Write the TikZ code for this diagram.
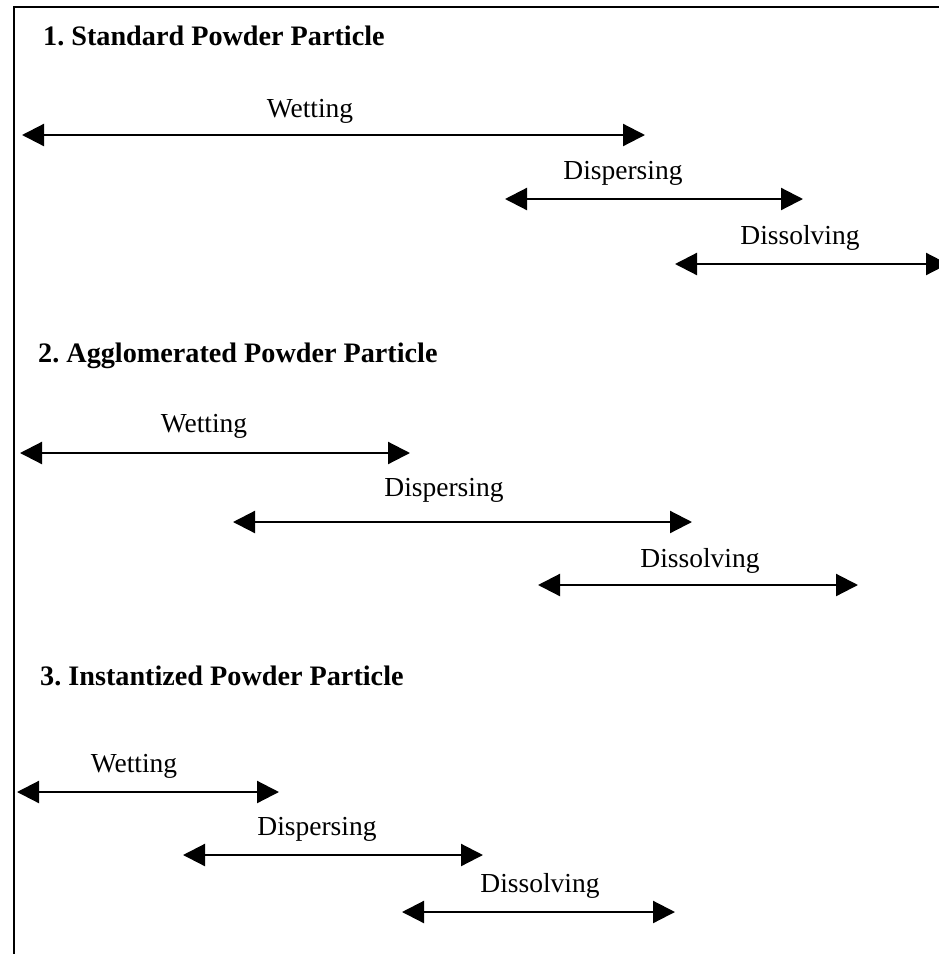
\documentclass[tikz,border=0pt]{standalone}
\usepackage{fontspec}
\setmainfont{Liberation Serif}
\usetikzlibrary{arrows.meta}
\frenchspacing
\tikzset{heading/.style={
            font=\fontsize{28.2}{30}\selectfont\bfseries,
            anchor=base west,
            inner sep=0pt
        },
        phase/.style={
            font=\fontsize{27.5}{30}\selectfont,
            anchor=base,
            inner sep=0pt
        },
        span/.style={
            {Triangle[length=22pt,width=22pt]}-{Triangle[length=22pt,width=22pt]},
            line width=2.2pt
        }
    }
\begin{document}
\begin{tikzpicture}
        [x=1pt,y=-1pt]

        \useasboundingbox (0,0) rectangle (938,954);
        \draw[line width=2pt] (13.5,960) -- (13.5,7) -- (945,7);

        % 1. standard
        \node[heading] (std) at (43,45) {1. Standard Powder Particle};
        \node[phase] (wetA) at (310,117) {Wetting};
        \node[phase] (dispA) at (623,179) {Dispersing};
        \node[phase] (dissA) at (800,244) {Dissolving};
        \coordinate (wetAl) at (22,135);   \coordinate (wetAr) at (645,135);
        \coordinate (dispAl) at (505,199); \coordinate (dispAr) at (803,199);
        \coordinate (dissAl) at (675,264); \coordinate (dissAr) at (948,264);
        \draw[span] (wetAl) -- (wetAr);
        \draw[span] (dispAl) -- (dispAr);
        \draw[span] (dissAl) -- (dissAr);

        % 2. agglomerated
        \node[heading] (agg) at (38,362) {2. Agglomerated Powder Particle};
        \node[phase] (wetB) at (204,432) {Wetting};
        \node[phase] (dispB) at (444,496) {Dispersing};
        \node[phase] (dissB) at (700,567) {Dissolving};
        \coordinate (wetBl) at (20,453);   \coordinate (wetBr) at (410,453);
        \coordinate (dispBl) at (233,522); \coordinate (dispBr) at (692,522);
        \coordinate (dissBl) at (538,585); \coordinate (dissBr) at (858,585);
        \draw[span] (wetBl) -- (wetBr);
        \draw[span] (dispBl) -- (dispBr);
        \draw[span] (dissBl) -- (dissBr);

        % 3. instantized
        \node[heading] (inst) at (40,685) {3. Instantized Powder Particle};
        \node[phase] (wetC) at (134,772) {Wetting};
        \node[phase] (dispC) at (317,835) {Dispersing};
        \node[phase] (dissC) at (540,892) {Dissolving};
        \coordinate (wetCl) at (17,792);   \coordinate (wetCr) at (279,792);
        \coordinate (dispCl) at (183,855); \coordinate (dispCr) at (483,855);
        \coordinate (dissCl) at (402,912); \coordinate (dissCr) at (675,912);
        \draw[span] (wetCl) -- (wetCr);
        \draw[span] (dispCl) -- (dispCr);
        \draw[span] (dissCl) -- (dissCr);

    \end{tikzpicture}
\end{document}
